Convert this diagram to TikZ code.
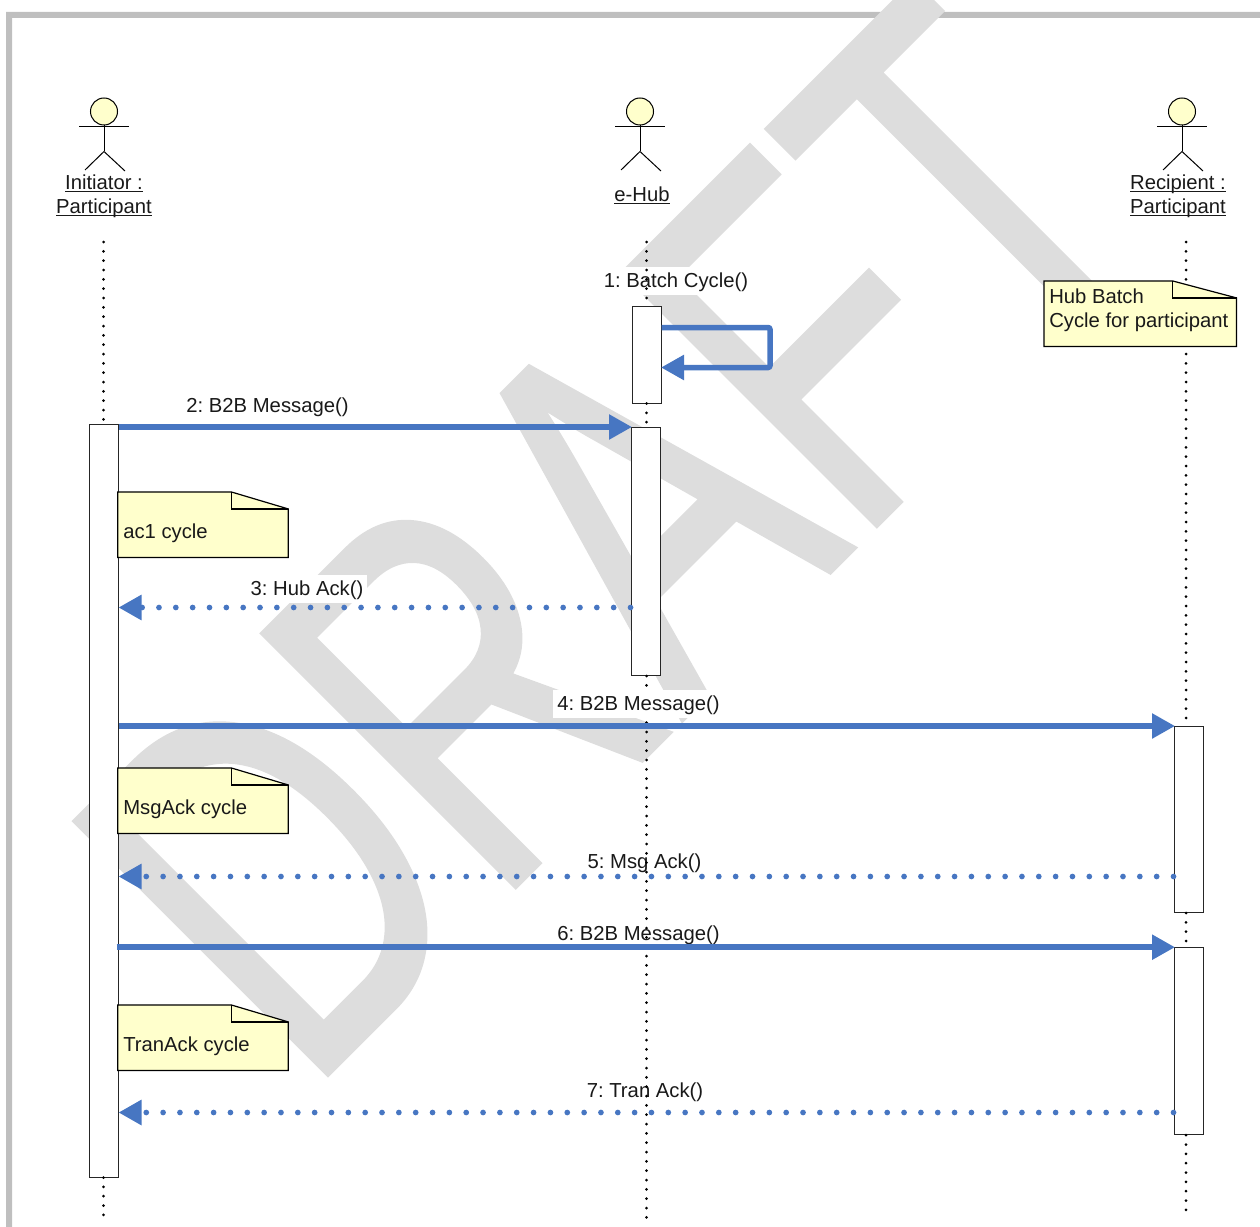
\documentclass[tikz,border=0pt]{standalone}
\usepackage{fontspec}
\setmainfont{Liberation Sans}
\newfontfamily\wmfont[FakeBold=1]{Liberation Sans}
\usetikzlibrary{arrows.meta,calc}
\definecolor{msgblue}{HTML}{4776C2}
\definecolor{notey}{HTML}{FFFFCC}
\definecolor{wmark}{HTML}{DDDDDD}
\definecolor{frameg}{HTML}{BFBFBF}
\def\u{0.75pt}
\newcommand{\ulname}[1]{\underline{\raisebox{0pt}[\height][0pt]{#1}}}
\tikzset{
  actbox/.style={draw=black!85,line width=1*\u,fill=white,inner sep=0pt,minimum width=29*\u},
  notebox/.style={inner sep=0pt,minimum width=170*\u,minimum height=65*\u},
  noteshape/.style={draw=black,line width=1.2*\u,fill=notey,line join=miter},
  notetext/.style={anchor=west,inner sep=0pt,align=left,text=black!90},
  lifeline/.style={line width=3*\u,line cap=round,dash pattern=on 0pt off 7pt,black},
  msg/.style={draw=msgblue,line width=5.5*\u,shorten >=-1.5*\u,-{Triangle[length=23*\u,width=24*\u,fill=msgblue]}},
  retmsg/.style={draw=msgblue,line width=5.7*\u,line cap=round,dash pattern=on 0pt off 12.63pt,-{Triangle[length=23*\u,width=24*\u,fill=msgblue]}},
  msglabel/.style={fill=white,inner xsep=3pt,inner ysep=3pt,text height=12.5pt,text depth=2.5pt,text=black!90},
  actorname/.style={align=center,inner sep=0pt,text=black!90},
  actorpart/.style={draw=black,line width=1*\u},
  actorhead/.style={circle,draw=black,line width=1*\u,fill=notey,inner sep=0pt,minimum size=27*\u}
}
\newcommand{\drawactor}[3]{%
  \node[actorhead] (#3) at (#1,#2) {};
  \coordinate (#3hip) at (#1,#2+40);
  \draw[actorpart] (#3.south) -- (#3hip);
  \draw[actorpart] ($(#3hip)+(-25,-24.5)$) -- ($(#3hip)+(25,-24.5)$);
  \draw[actorpart] ($(#3hip)+(-19,18.5)$) -- (#3hip) -- ($(#3hip)+(21,19.5)$);
}
\newcommand{\drawnote}[3]{%
  \draw[noteshape] (#1.south west) -- (#1.north west) -- ($(#1.north east)+(-#2,0)$) -- ($(#1.north east)+(0,17)$) -- (#1.south east) -- cycle;
  \draw[noteshape,fill=none] ($(#1.north east)+(-#2,0)$) -- ($(#1.north east)+(-#2,17)$) -- ($(#1.north east)+(0,17)$);
}
\begin{document}
\begin{tikzpicture}[x=0.75pt,y=-0.75pt,font=\fontsize{15.2}{18}\selectfont\frenchspacing]
\useasboundingbox (0,0) rectangle (1260,1227);
\clip (0,0) rectangle (1260,1227);
% frame
\fill[frameg] (6,1227) -- (6,12) -- (1260,12) -- (1260,18) -- (12,18) -- (12,1227) -- cycle;
% watermark
\begin{scope}[shift={(306,1096)}]
\begin{scope}[cm={0.520,0.520,-0.735,0.735,(0,0)}]
\node[transform shape,anchor=base west,inner sep=0pt,text=wmark,font=\wmfont\fontsize{375}{375}\selectfont] (wm) at (0,0) {DRAFT};
\end{scope}
\end{scope}
% labels under lifelines
\node[msglabel] (l1) at (676,281) {1: Batch Cycle()};
\node[msglabel] (l2) at (267.5,405.5) {2: B2B Message()};
\node[msglabel] (l3) at (307,589) {3: Hub Ack()};
\node[msglabel] (l5) at (644.5,861.5) {5: Msg Ack()};
\node[msglabel] (l6) at (638.5,933.5) {6: B2B Message()};
\node[msglabel] (l7) at (645,1090.5) {7: Tran Ack()};
% actors
\drawactor{104}{111.5}{ai}
\drawactor{640}{111.5}{ah}
\drawactor{1182}{111.5}{ar}
\node[actorname] (ni) at (104,195.5) {\ulname{Initiator :}\\[0pt]\ulname{Participant}};
\node[actorname] (nh) at (642,195) {\ulname{e-Hub}};
\node[actorname] (nr) at (1178,195.5) {\ulname{Recipient :}\\[0pt]\ulname{Participant}};
% activation boxes
\node[actbox,minimum height=97*\u] (h1) at (646.5,354.5) {};
\node[actbox,minimum height=248*\u] (h2) at (645.5,551.5) {};
\node[actbox,minimum height=753*\u] (i1) at (103.5,800.5) {};
\node[actbox,minimum height=186*\u] (r1) at (1188.5,819.5) {};
\node[actbox,minimum height=187*\u] (r2) at (1188.5,1041.2) {};
% lifelines
\coordinate (ti) at (103.5,242); \coordinate (ei) at (103.5,1219);
\coordinate (th) at (646.5,242); \coordinate (eh) at (646.5,1219);
\coordinate (tr) at (1186,242);  \coordinate (er) at (1186,1219);
\draw[lifeline] (ti) -- (ti |- i1.north);
\draw[lifeline] (ti |- i1.south) -- (ei);
\draw[lifeline] (th) -- (th |- h1.north);
\draw[lifeline] (th |- h1.south) -- (th |- h2.north);
\draw[lifeline] (th |- h2.south) -- (eh);
\draw[lifeline] (tr) -- (tr |- r1.north);
\draw[lifeline] (tr |- r1.south) -- (tr |- r2.north);
\draw[lifeline] (tr |- r2.south) -- (er);
% notes
\node[notebox,minimum width=192*\u] (nhub) at (1140.3,313.7) {};
\drawnote{nhub}{64}{}
\node[notetext] (thub) at (1049,310) {Hub Batch\\Cycle for participant};
\node[notebox] (nac) at (203,524.7) {};
\drawnote{nac}{57}{}
\node[notetext] (tac) at (123,533.5) {ac1 cycle};
\node[notebox] (nms) at (203,800.7) {};
\drawnote{nms}{57}{}
\node[notetext] (tms) at (123,809.5) {MsgAck cycle};
\node[notebox] (ntr) at (203,1037.7) {};
\drawnote{ntr}{57}{}
\node[notetext] (ttr) at (123,1046.5) {TranAck cycle};
% label 4 hides the lifeline
\node[msglabel] (l4) at (638.5,704) {4: B2B Message()};
% messages
\coordinate (c1a) at (770,327.5);
\coordinate (c1b) at (770,367.5);
\coordinate (m3) at (0,607.5);
\coordinate (m5) at (0,876.5);
\coordinate (m7) at (0,1112.5);
\draw[msg,rounded corners=2*\u] (h1.east |- c1a) -- (c1a) -- (c1b) -- ($(h1.east |- c1b)+(1,0)$);
\draw[msg] (i1.east |- h2.north west) -- (h2.north west);
\draw[retmsg] (h2.west |- m3) -- (i1.east |- m3);
\draw[msg] (i1.east |- r1.north west) -- (r1.north west);
\draw[retmsg] (r1.west |- m5) -- (i1.east |- m5);
\draw[msg] ($(i1.east |- r2.north west)+(-2,0)$) -- (r2.north west);
\draw[retmsg] (r2.west |- m7) -- (i1.east |- m7);
\end{tikzpicture}
\end{document}
